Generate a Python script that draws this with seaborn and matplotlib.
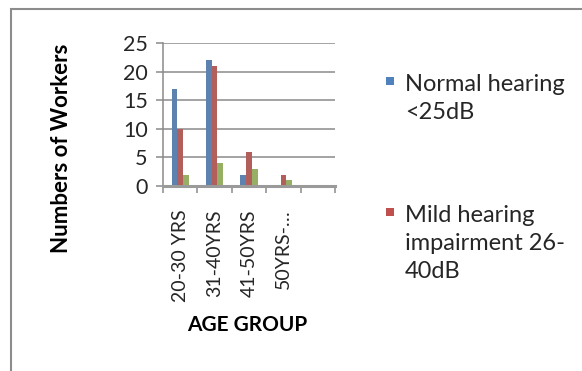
import matplotlib
matplotlib.use("Agg")
import matplotlib.pyplot as plt
from matplotlib.patches import Rectangle
import pandas as pd
import seaborn as sns

# Hearing status of workers by age group
age_groups = ["20-30 YRS", "31-40YRS", "41-50YRS", "50YRS-…", ""]
normal_hearing = [17, 22, 2, 0, 0]
mild_impairment = [10, 21, 6, 2, 0]
moderate_impairment = [2, 4, 3, 1, 0]

series_names = ["Normal hearing\n<25dB",
                "Mild hearing\nimpairment 26-\n40dB",
                "Moderate hearing impairment"]
series_colors = ["#4F81BD", "#C0504D", "#9BBB59"]
y_ticks = [0, 5, 10, 15, 20, 25]

rows = []
for name, vals in zip(series_names, [normal_hearing, mild_impairment, moderate_impairment]):
    for grp, v in zip(age_groups, vals):
        rows.append({"age": grp, "workers": v, "series": name})
df = pd.DataFrame(rows)

sns.set_theme(style="white")
plt.rcParams["font.family"] = ["Lato", "DejaVu Sans"]

W, H = 582, 371
fig = plt.figure(figsize=(W / 100, H / 100), dpi=100)
fig.patch.set_facecolor("white")

def px(x0, y0, x1, y1):
    return [x0 / W, 1 - y1 / H, (x1 - x0) / W, (y1 - y0) / H]

ax = fig.add_axes(px(163, 43, 335, 186))

sns.barplot(data=df, x="age", y="workers", hue="series", order=age_groups,
            hue_order=series_names, palette=series_colors, width=0.5,
            linewidth=0, legend=False, ax=ax)

ax.set_xlim(-0.5, len(age_groups) - 0.5)
ax.set_ylim(0, 25)
ax.set_yticks(y_ticks)
ax.yaxis.grid(True, color="#8a8a8a", linewidth=1.1)
ax.set_axisbelow(True)

for s in ["top", "right"]:
    ax.spines[s].set_visible(False)
ax.spines["left"].set_color("#8a8a8a")
ax.spines["left"].set_linewidth(1.1)
ax.spines["bottom"].set_color("#9a9a9a")
ax.spines["bottom"].set_linewidth(2.2)

# category boundary tick marks below the floor
ax.set_xticks([i - 0.5 for i in range(len(age_groups) + 1)], minor=True)
ax.tick_params(axis="x", which="minor", direction="out", length=5, width=1.1,
               color="#8a8a8a", bottom=True)
ax.tick_params(axis="x", which="major", length=0, pad=17, labelsize=14,
               labelcolor="#262626")
ax.tick_params(axis="y", which="major", direction="out", length=5, width=1.1,
               color="#8a8a8a", left=True, pad=6, labelsize=15.5,
               labelcolor="#262626")
ax.set_xticks(range(len(age_groups)))
ax.set_xticklabels(age_groups, rotation=90)

ax.set_ylabel("Numbers of Workers", fontsize=16, fontweight="bold",
              color="#000000", va="center")
ax.yaxis.set_label_coords((62 - 163) / 172, (186 - 148) / 143)
ax.set_xlabel("AGE GROUP", fontsize=15, fontweight="bold",
              color="#000000", va="center")
ax.xaxis.set_label_coords((247 - 163) / 172, (186 - 325) / 143)

# legend entries (square marker with first text line)
legend_items = [(series_names[0], series_colors[0], 77),
                (series_names[1], series_colors[1], 208)]
for label, color, top in legend_items:
    fig.patches.append(Rectangle((386 / W, 1 - (top + 8) / H), 8 / W, 8 / H,
                                 transform=fig.transFigure, facecolor=color,
                                 edgecolor="none"))
    fig.text(405 / W, 1 - (top - 3) / H, label, fontsize=17, color="#262626",
             va="top", ha="left", linespacing=1.4)

# outer chart frame
fig.patches.append(Rectangle((11 / W, -0.1), 1.2, 1 - 9 / H + 0.1,
                             transform=fig.transFigure, facecolor="none",
                             edgecolor="#8c8c8c", linewidth=1.5))

fig.savefig("out.png", dpi=100)
